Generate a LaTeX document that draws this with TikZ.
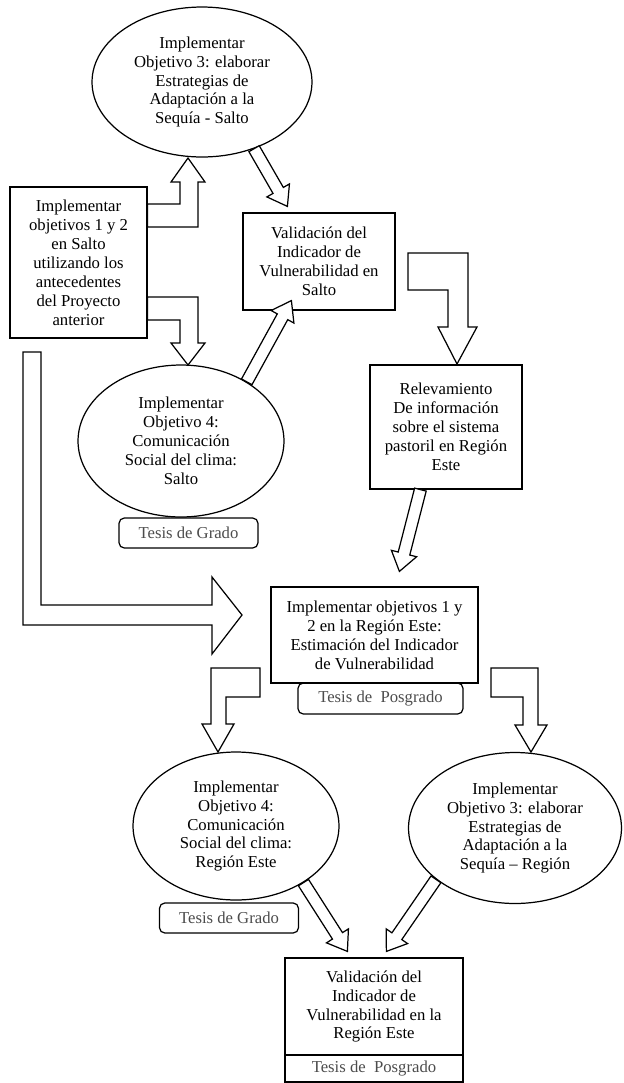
\documentclass[tikz,border=0pt]{standalone}
\usepackage{fontspec}
\setmainfont{Liberation Serif}
\usepackage{tikz}
\usetikzlibrary{shapes.geometric,calc}

\tikzset{
    box/.style={draw, fill=white, align=center, inner sep=0pt, line width=0.7pt,
                font=\fontsize{9.5}{10.8}\selectfont},
    oval/.style={box, ellipse},
    tesis/.style={box, rounded corners=3pt, text=black!70},
    hollow/.style={draw, fill=white, line width=0.7pt, line join=miter},
    % straight hollow arrow from start to target
    fatarrow/.style={to path={
        let \p1=($(\tikztotarget)!10.5pt!(\tikztostart)$) in
        ($(\tikztostart)!3.4pt!90:(\tikztotarget)$)
        -- ($(\p1)!3.4pt!-90:(\tikztostart)$)
        -- ($(\p1)!7.4pt!-90:(\tikztostart)$)
        -- (\tikztotarget)
        -- ($(\p1)!7.4pt!90:(\tikztostart)$)
        -- ($(\p1)!3.4pt!90:(\tikztostart)$)
        -- ($(\tikztostart)!3.4pt!-90:(\tikztotarget)$)
        -- cycle}}
}

\begin{document}
\begin{tikzpicture}[x=0.02cm, y=-0.02cm]  % one unit is one pixel, y pointing down
    \useasboundingbox (0,0) rectangle (623,1083);

    % Tesis boxes under the shapes
    \foreach \n/\x/\y in {t1/188.5/533, t3/229/918} {
        \node[tesis, minimum width=2.78cm, minimum height=0.6cm] (\n) at (\x,\y) {Tesis de Grado};
    }
    \node[tesis, minimum width=3.3cm, minimum height=0.62cm] (t2) at (380.5,698.5) {Tesis de~ Posgrado};

    % Salto
    \node[oval, minimum width=4.4cm, minimum height=3cm] (e1) at (202,82)
        {Implementar\\Objetivo 3: elaborar\\Estrategias de\\Adaptación a la\\Sequía - Salto};
    \node[box, minimum width=2.74cm, minimum height=3.02cm] (b1) at (78.5,262.5)
        {Implementar\\objetivos 1 y 2\\en Salto\\utilizando los\\antecedentes\\del Proyecto\\anterior};
    \node[box, minimum width=3.04cm, minimum height=1.94cm] (v1) at (319,261.5)
        {Validación del\\Indicador de\\Vulnerabilidad en\\Salto};
    \node[oval, minimum width=4.12cm, minimum height=3.04cm] (e2) at (181,441)
        {Implementar\\Objetivo 4:\\Comunicación\\Social del clima:\\Salto};

    % Region Este
    \node[box, minimum width=3.04cm, minimum height=2.48cm] (r1) at (446,427)
        {Relevamiento\\De información\\sobre el sistema\\pastoril en Región\\Este};
    \node[box, minimum width=4.14cm, minimum height=1.92cm] (b2) at (374.5,635)
        {Implementar objetivos 1 y\\2 en la Región Este:\\Estimación del Indicador\\de Vulnerabilidad};
    \node[oval, minimum width=4.12cm, minimum height=2.96cm] (e3) at (236,826)
        {Implementar\\Objetivo 4:\\Comunicación\\Social del clima:\\Región Este};
    \node[oval, minimum width=4.26cm, minimum height=3.02cm] (e4) at (515,828)
        {Implementar\\Objetivo 3: elaborar\\Estrategias de\\Adaptación a la\\Sequía -- Región};
    \node[box, minimum width=3.56cm, minimum height=1.94cm] (v2) at (374,1006.5)
        {Validación del\\Indicador de\\Vulnerabilidad en la\\Región Este};
    \node[box, minimum width=3.56cm, minimum height=0.54cm, text=black!70] (t4) at (374,1068.5)
        {Tesis de~ Posgrado};

    % Arrow tips and tails
    \coordinate (tip1) at ($(v1.north west)+(45,-6)$);
    \coordinate (tip2) at ($(v1.south west)+(49,-10)$);
    \coordinate (tail3) at ($(r1.south west)+(51,0)$);
    \coordinate (tip3) at ($(b2.north west)+(129,-15)$);
    \coordinate (tip4) at ($(v2.north west)+(63,-6)$);
    \coordinate (tip5) at ($(v2.north west)+(102,-6)$);

    % Straight arrows
    \draw[hollow] (e1.-52) to[fatarrow] (tip1);
    \draw[hollow] (e2.42) to[fatarrow] (tip2);
    \draw[hollow] (tail3) to[fatarrow] (tip3);
    \draw[hollow] (e3.-40) to[fatarrow] (tip4);
    \draw[hollow] (e4.-147) to[fatarrow] (tip5);

    % Bent arrows
    \draw[hollow] (b1.east |- 0,204) -- (180,204) -- (180,182) -- (171,182) -- (188,158)
        -- (205,182) -- (198,182) -- (198,227) -- (b1.east |- 0,227) -- cycle;
    \draw[hollow] (b1.east |- 0,297) -- (198,297) -- (198,343) -- (205,343) -- (188,365)
        -- (171,343) -- (180,343) -- (180,320) -- (b1.east |- 0,320) -- cycle;
    \draw[hollow] (408,253) -- (468,253) -- (468,327) -- (477,327) -- (457,364)
        -- (438,327) -- (448,327) -- (448,290) -- (408,290) -- cycle;
    \draw[hollow] (23,352) -- (41,352) -- (41,605) -- (212,605) -- (212,577) -- (242,615)
        -- (212,654) -- (212,625) -- (23,625) -- cycle;
    \draw[hollow] (260,668) -- (260,697) -- (226,697) -- (226,724) -- (234,724) -- (218,752)
        -- (202,724) -- (211,724) -- (211,668) -- cycle;
    \draw[hollow] (491,668) -- (538,668) -- (538,725) -- (547,725) -- (531,752)
        -- (515,725) -- (523,725) -- (523,697) -- (491,697) -- cycle;

\end{tikzpicture}
\end{document}
